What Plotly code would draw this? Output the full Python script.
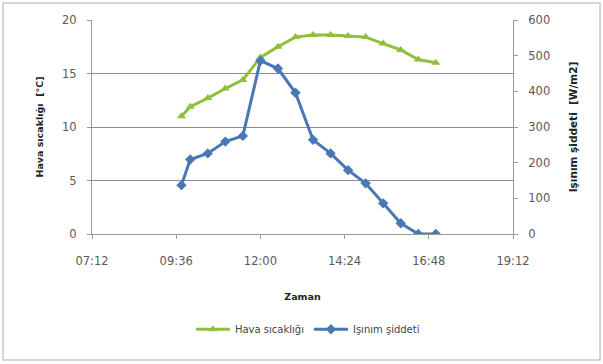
import plotly.graph_objects as go

# Measurement times (hh:mm) for one day
times = ["09:45", "10:00", "10:30", "11:00", "11:30", "12:00", "12:30", "13:00",
         "13:30", "14:00", "14:30", "15:00", "15:30", "16:00", "16:30", "17:00"]
# Air temperature [°C]
hava_sicakligi = [11.0, 11.9, 12.7, 13.6, 14.4, 16.5, 17.5, 18.4,
                  18.6, 18.6, 18.5, 18.4, 17.8, 17.2, 16.3, 16.0]
# Solar irradiance [W/m2]
isinim_siddeti = [137, 209, 226, 259, 275, 486, 464, 396,
                  264, 226, 179, 142, 86, 30, 0, 0]
# Time-axis ticks
x_ticks = ["07:12", "09:36", "12:00", "14:24", "16:48", "19:12"]

day = "2000-01-01 "
xs = [day + t for t in times]
tickvals = [day + t for t in x_ticks]

GREEN = "#8fc03c"
BLUE = "#4a78b4"
FAMILY = "DejaVu Sans, Liberation Sans, sans-serif"
TICK_FONT = dict(family=FAMILY, size=11.5, color="#5a5a5a")
TITLE_FONT = dict(family=FAMILY, size=9.5, color="#222222")

fig = go.Figure()
fig.add_trace(go.Scatter(
    x=xs, y=hava_sicakligi, name="Hava sıcaklığı", mode="lines+markers",
    line=dict(color=GREEN, width=3),
    marker=dict(symbol="triangle-up", size=8, color=GREEN),
    yaxis="y"))
fig.add_trace(go.Scatter(
    x=xs, y=isinim_siddeti, name="Işınım şiddeti", mode="lines+markers",
    line=dict(color=BLUE, width=3),
    marker=dict(symbol="diamond", size=8, color=BLUE),
    yaxis="y2"))

fig.update_layout(
    width=603, height=364,
    margin=dict(l=92, r=90, t=20, b=130),
    paper_bgcolor="white", plot_bgcolor="white",
    showlegend=True,
    legend=dict(orientation="h", x=0.513, xanchor="center", y=-0.445, yanchor="middle",
                font=dict(family=FAMILY, size=10, color="#444444"),
                itemwidth=34, tracegroupgap=0),
    xaxis=dict(
        type="date", range=[tickvals[0], tickvals[-1]],
        tickvals=tickvals, ticktext=x_ticks, tickfont=TICK_FONT,
        ticklabelstandoff=12,
        showgrid=False, showline=True, linecolor="#9a9a9a", linewidth=1,
        ticks="outside", ticklen=4, tickcolor="#9a9a9a",
        title=dict(text="<b>Zaman</b>", font=TITLE_FONT, standoff=26),
        zeroline=False, mirror=False),
    yaxis=dict(
        range=[0, 20], tickvals=[0, 5, 10, 15, 20], tickfont=TICK_FONT,
        ticklabelstandoff=8,
        showgrid=True, gridcolor="#8c8c8c", gridwidth=1,
        showline=True, linecolor="#9a9a9a", linewidth=1,
        ticks="outside", ticklen=4, tickcolor="#9a9a9a",
        title=dict(text="<b>Hava sıcaklığı  [°C]</b>", font=TITLE_FONT, standoff=16),
        zeroline=False),
    yaxis2=dict(
        range=[0, 600], tickvals=[0, 100, 200, 300, 400, 500, 600], tickfont=TICK_FONT,
        ticklabelstandoff=8,
        overlaying="y", side="right", showgrid=False,
        showline=True, linecolor="#9a9a9a", linewidth=1,
        ticks="outside", ticklen=4, tickcolor="#9a9a9a",
        title=dict(text="<b>Işınım şiddeti  [W/m2]</b>",
                   font=dict(family=FAMILY, size=10.5, color="#222222"), standoff=20),
        zeroline=False),
    shapes=[dict(type="rect", xref="paper", yref="paper",
                 x0=-0.2114, x1=1.2067, y0=-0.589, y1=1.0794,
                 line=dict(color="#c8c8c8", width=1.5), fillcolor="rgba(0,0,0,0)",
                 layer="below")],
)

fig.write_html("out.html")
